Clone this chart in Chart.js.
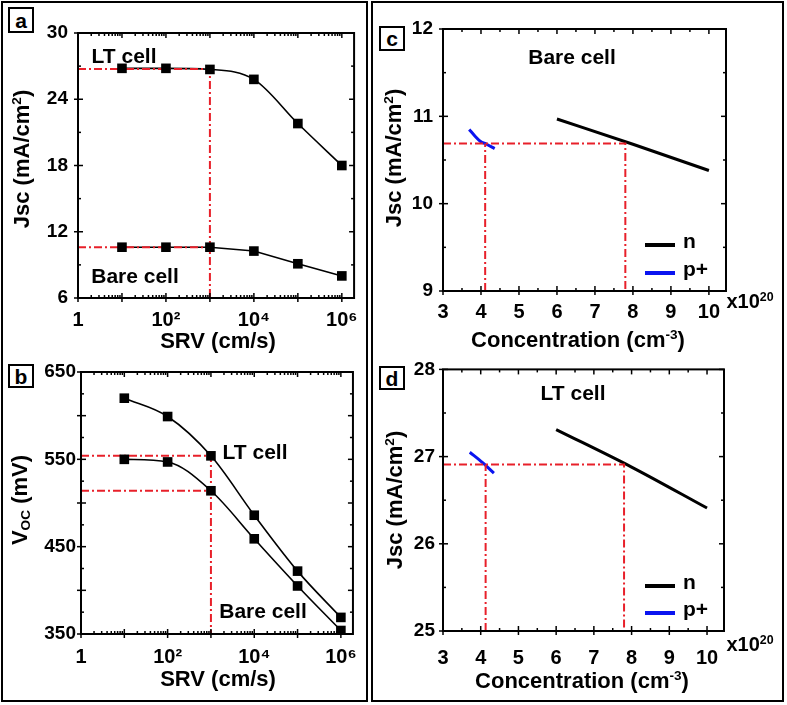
<!DOCTYPE html>
<html>
<head>
<meta charset="utf-8">
<script src="https://cdn.jsdelivr.net/npm/chart.js@4.4.0/dist/chart.umd.min.js"></script>
<style>
  body { margin: 0; width: 787px; height: 705px; position: relative; overflow: hidden; background: #fff;
         font-family: "Liberation Sans", Arial, sans-serif; font-weight: bold; color: #000; }
  .frame { position: absolute; border: 2px solid #000; box-sizing: border-box; }
  canvas { position: absolute; }
  .t { position: absolute; white-space: nowrap; line-height: 1; font-size: 21px; transform: translate(-50%, -50%); }
  .ttl { font-size: 22px; }
  .rot { transform: translate(-50%, -50%) rotate(-90deg); }
  .tag { position: absolute; border: 2px solid #000; box-sizing: border-box; font-size: 21px; line-height: 1;
         display: flex; align-items: center; justify-content: center; background: #fff; }
  sup { font-size: 0.62em; vertical-align: 0.6em; line-height: 0; }
  sub { font-size: 0.62em; vertical-align: -0.25em; line-height: 0; }
</style>
</head>
<body>
<div class="frame" style="left:1px;top:1px;width:367px;height:701px"></div>
<div class="frame" style="left:371px;top:1px;width:413px;height:701px"></div>

<canvas id="chartA" width="368" height="350" style="left:0;top:0"></canvas>
<canvas id="chartB" width="368" height="355" style="left:0;top:350px"></canvas>
<canvas id="chartC" width="414" height="350" style="left:370px;top:0"></canvas>
<canvas id="chartD" width="414" height="355" style="left:370px;top:350px"></canvas>

<div class="tag" style="left:8px;top:7px;width:26px;height:26px">a</div>
<div class="tag" style="left:8px;top:364px;width:26px;height:24px">b</div>
<div class="tag" style="left:379px;top:26px;width:26px;height:25px">c</div>
<div class="tag" style="left:379px;top:366px;width:26px;height:24px">d</div>

<div class="t ttl" style="left:218px;top:341px">SRV (cm/s)</div>
<div class="t ttl rot" style="left:22px;top:159px">Jsc (mA/cm<sup>2</sup>)</div>
<div class="t" style="left:124px;top:55px">LT cell</div>
<div class="t" style="left:135px;top:275px">Bare cell</div>

<div class="t ttl" style="left:218px;top:679px">SRV (cm/s)</div>
<div class="t ttl rot" style="left:20px;top:500px">V<sub>OC</sub> (mV)</div>
<div class="t" style="left:255px;top:451px">LT cell</div>
<div class="t" style="left:263px;top:610px">Bare cell</div>

<div class="t ttl" style="left:578px;top:340px">Concentration (cm<sup>-3</sup>)</div>
<div class="t ttl rot" style="left:394px;top:158px">Jsc (mA/cm<sup>2</sup>)</div>
<div class="t" style="left:572px;top:56px">Bare cell</div>
<div class="t" style="left:750px;top:301px;font-size:20px">x10<sup>20</sup></div>

<div class="t ttl" style="left:582px;top:681px">Concentration (cm<sup>-3</sup>)</div>
<div class="t ttl rot" style="left:395px;top:500px">Jsc (mA/cm<sup>2</sup>)</div>
<div class="t" style="left:573px;top:392px">LT cell</div>
<div class="t" style="left:750px;top:644px;font-size:20px">x10<sup>20</sup></div>

<script>
// panels a and b: SRV sweep (cm/s)
const srv = [10, 100, 1e3, 1e4, 1e5, 1e6];
const jscLT = [26.8, 26.8, 26.7, 25.8, 21.8, 18.0];
const jscBare = [10.6, 10.6, 10.6, 10.25, 9.1, 8.0];
const vocLT = [620, 599, 554, 486, 422, 369];
const vocBare = [550, 547, 514, 459, 405, 354];
const srvChosen = 1e3;
const jscLTChosen = 26.75;
const jscBareChosen = 10.6;
const vocLTChosen = 554;
const vocBareChosen = 514;
const srvTicks = [1, 10, 100, 1e3, 1e4, 1e5, 1e6];

// panels c and d: doping concentration (x1e20 cm^-3)
const nConcBare = [6, 8, 10];
const nJscBare = [10.97, 10.68, 10.38];
const pConcBare = [3.69, 3.85, 3.98, 4.15, 4.36];
const pJscBare = [10.85, 10.77, 10.715, 10.68, 10.63];
const nConcLT = [6, 8, 10];
const nJscLT = [27.31, 26.88, 26.41];
const pConcLT = [3.71, 4.05, 4.35];
const pJscLT = [27.05, 26.93, 26.81];
const bareMatch = { jsc: 10.69, n: 7.8, p: 4.11 };
const ltMatch = { jsc: 26.91, n: 7.8, p: 4.13 };
const concTicks = [3, 4, 5, 6, 7, 8, 9, 10];

const RED = '#e8202a';
const xy = (xs, ys) => xs.map((x, i) => ({ x, y: ys[i] }));

function steps(min, max, step) {
  const out = [];
  for (let v = min; v <= max + 1e-9; v += step) out.push(+v.toFixed(6));
  return out;
}
function logMinor(max) {
  const out = [];
  for (let e = 0; Math.pow(10, e) <= max; e++)
    for (let m = 2; m <= 9; m++) if (m * Math.pow(10, e) <= max) out.push(m * Math.pow(10, e));
  return out;
}
const supDigits = { 2: '\u00b2', 4: '\u2074', 6: '\u2076' };
const srvLabel = v => {
  const e = Math.round(Math.log10(v));
  if (e === 0) return '1';
  return e % 2 === 0 ? '10' + supDigits[e] : '';
};

const markers = data => ({ data, showLine: false, pointStyle: 'rect', pointRadius: 6.8,
  pointBackgroundColor: '#000', pointBorderColor: '#000', pointBorderWidth: 0 });
const curve = (data, smooth) => ({ data, borderColor: '#000', borderWidth: 1.6, pointRadius: 0,
  cubicInterpolationMode: smooth ? 'monotone' : 'default', tension: 0 });
const refLine = data => ({ data, borderColor: RED, borderWidth: 2, borderDash: [8, 3, 2, 3], pointRadius: 0 });
const series = (data, color, label) => ({ data, label, legend: true, borderColor: color, borderWidth: 3,
  pointRadius: 0, cubicInterpolationMode: 'monotone' });

// ticks on all four sides of the plot frame, drawn through the chart's scales
function frameTicks(spec) {
  return {
    id: 'frameTicks',
    afterDatasetsDraw(chart) {
      const { ctx, chartArea: a, scales: { x, y } } = chart;
      const seg = (x1, y1, x2, y2) => { ctx.beginPath(); ctx.moveTo(x1, y1); ctx.lineTo(x2, y2); ctx.stroke(); };
      ctx.save();
      ctx.strokeStyle = '#000';
      ctx.lineWidth = 1.5;
      [[spec.x.major, 5, 4], [spec.x.minor, 3, 0]].forEach(([vals, len, out]) => vals.forEach(v => {
        const p = x.getPixelForValue(v);
        if (p < a.left - 1 || p > a.right - 1) return;
        seg(p, a.bottom - len, p, a.bottom + out);
        seg(p, a.top, p, a.top + len);
      }));
      [[spec.y.major, 5, 4], [spec.y.minor, 3, 0]].forEach(([vals, len, out]) => vals.forEach(v => {
        const p = y.getPixelForValue(v);
        if (p < a.top - 1 || p > a.bottom + 1) return;
        seg(a.left - out, p, a.left + len, p);
        seg(a.right - len, p, a.right, p);
      }));
      ctx.lineWidth = 2;
      ctx.strokeRect(a.left, a.top, a.width, a.height);
      ctx.restore();
    }
  };
}

function insideLegend(spec) {
  return {
    id: 'insideLegend',
    afterDatasetsDraw(chart) {
      if (!spec) return;
      const { ctx, chartArea: a } = chart;
      ctx.save();
      ctx.font = 'bold 21px "Liberation Sans", Arial, sans-serif';
      ctx.textBaseline = 'middle';
      chart.data.datasets.filter(d => d.legend).forEach((d, i) => {
        const yy = a.bottom + spec.rows[i];
        ctx.strokeStyle = d.borderColor;
        ctx.lineWidth = 4;
        ctx.beginPath(); ctx.moveTo(a.right + spec.x1, yy); ctx.lineTo(a.right + spec.x2, yy); ctx.stroke();
        ctx.fillStyle = '#000';
        ctx.fillText(d.label, a.right + spec.tx, yy - 3);
      });
      ctx.restore();
    }
  };
}

function panel(id, datasets, p) {
  const font = size => ({ family: '"Liberation Sans", Arial, sans-serif', weight: 'bold', size });
  return new Chart(document.getElementById(id), {
    type: 'line',
    data: { datasets },
    plugins: [frameTicks(p.frame), insideLegend(p.legend)],
    options: {
      responsive: false,
      animation: false,
      events: [],
      layout: { padding: { left: 0, top: p.top, right: p.right, bottom: 0 } },
      plugins: { legend: { display: false }, tooltip: { enabled: false } },
      scales: {
        x: {
          type: p.x.type || 'linear', min: p.x.min, max: p.x.max,
          grid: { display: false, drawTicks: false }, border: { display: false },
          afterFit: s => { s.height = p.xHeight; },
          afterBuildTicks: s => { s.ticks = p.x.ticks.map(value => ({ value })); },
          ticks: { padding: p.x.pad, color: '#000', font: font(20), maxRotation: 0, autoSkip: false,
            callback: p.x.label || (v => v) }
        },
        y: {
          min: p.y.min, max: p.y.max,
          grid: { display: false, drawTicks: false }, border: { display: false },
          afterFit: s => { s.width = p.yWidth; },
          afterBuildTicks: s => { s.ticks = p.y.ticks.map(value => ({ value })); },
          ticks: { padding: p.y.pad, color: '#000', font: font(19), autoSkip: false, callback: v => v }
        }
      }
    }
  });
}

// a: Jsc vs SRV
panel('chartA', [
  markers(xy(srv, jscLT)),
  markers(xy(srv, jscBare)),
  refLine([{ x: 1, y: jscLTChosen }, { x: srvChosen, y: jscLTChosen }, { x: srvChosen, y: 6 }]),
  refLine([{ x: 1, y: jscBareChosen }, { x: srvChosen, y: jscBareChosen }]),
  curve(xy(srv, jscLT), true),
  curve(xy(srv, jscBare), false)
], {
  top: 33, right: 10, yWidth: 78, xHeight: 52,
  x: { type: 'logarithmic', min: 1, max: 1.9e6, ticks: srvTicks, label: srvLabel, pad: 10 },
  y: { min: 6, max: 30, ticks: steps(6, 30, 6), pad: 10 },
  frame: { x: { major: srvTicks, minor: logMinor(1.9e6) }, y: { major: steps(6, 30, 6), minor: steps(9, 27, 6) } }
});

// b: Voc vs SRV
panel('chartB', [
  markers(xy(srv, vocLT)),
  markers(xy(srv, vocBare)),
  refLine([{ x: 1, y: vocLTChosen }, { x: srvChosen, y: vocLTChosen }, { x: srvChosen, y: 350 }]),
  refLine([{ x: 1, y: vocBareChosen }, { x: srvChosen, y: vocBareChosen }]),
  curve(xy(srv, vocLT), true),
  curve(xy(srv, vocBare), true)
], {
  top: 22, right: 9, yWidth: 81, xHeight: 71,
  x: { type: 'logarithmic', min: 1, max: 1.9e6, ticks: srvTicks, label: srvLabel, pad: 11 },
  y: { min: 350, max: 650, ticks: steps(350, 650, 100), pad: 5 },
  frame: { x: { major: srvTicks, minor: logMinor(1.9e6) }, y: { major: steps(350, 650, 50), minor: steps(375, 625, 50) } }
});

// c: bare cell Jsc vs doping
panel('chartC', [
  refLine([{ x: bareMatch.p, y: 9 }, { x: bareMatch.p, y: bareMatch.jsc }]),
  refLine([{ x: 3, y: bareMatch.jsc }, { x: bareMatch.n, y: bareMatch.jsc }, { x: bareMatch.n, y: 9 }]),
  series(xy(nConcBare, nJscBare), '#000', 'n'),
  series(xy(pConcBare, pJscBare), '#0a14f0', 'p+')
], {
  top: 29, right: 58, yWidth: 73, xHeight: 59,
  x: { min: 3, max: 10.45, ticks: concTicks, pad: 9 },
  y: { min: 9, max: 12, ticks: [9, 10, 11, 12], pad: 10 },
  frame: { x: { major: concTicks, minor: steps(3.5, 9.5, 1) }, y: { major: steps(9, 12, 1), minor: steps(9.5, 11.5, 1) } },
  legend: { x1: -81, x2: -51, tx: -43, rows: [-46, -18] }
});

// d: LT cell Jsc vs doping
panel('chartD', [
  refLine([{ x: ltMatch.p, y: 25 }, { x: ltMatch.p, y: ltMatch.jsc }]),
  refLine([{ x: 3, y: ltMatch.jsc }, { x: ltMatch.n, y: ltMatch.jsc }, { x: ltMatch.n, y: 25 }]),
  series(xy(nConcLT, nJscLT), '#000', 'n'),
  series(xy(pConcLT, pJscLT), '#0a14f0', 'p+')
], {
  top: 19, right: 60, yWidth: 73, xHeight: 74,
  x: { min: 3, max: 10.45, ticks: concTicks, pad: 15 },
  y: { min: 25, max: 28, ticks: [25, 26, 27, 28], pad: 8 },
  frame: { x: { major: concTicks, minor: steps(3.5, 9.5, 1) }, y: { major: steps(25, 28, 1), minor: steps(25.5, 27.5, 1) } },
  legend: { x1: -79, x2: -49, tx: -41, rows: [-45, -18] }
});
</script>
</body>
</html>
